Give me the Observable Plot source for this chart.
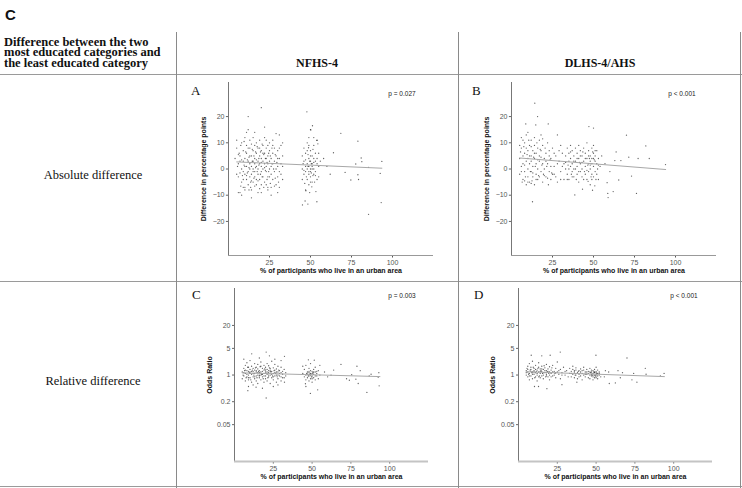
<!DOCTYPE html>
<html>
<head>
<meta charset="utf-8">
<script src="https://cdn.jsdelivr.net/npm/d3@7"></script>
<script src="https://cdn.jsdelivr.net/npm/@observablehq/plot@0.6"></script>
<style>
  html, body { margin: 0; padding: 0; background: #fff; }
  #fig { position: relative; width: 742px; height: 488px; overflow: hidden; background: #fff; }
  .abs { position: absolute; }
  .hl { position: absolute; height: 0; border-top: 1.5px solid #9a9a9a; }
  .vl { position: absolute; width: 0; border-left: 1px solid #8a8a8a; }
  .serif { font-family: "Liberation Serif", "Times New Roman", serif; color: #111; }
  .sans { font-family: "Liberation Sans", Arial, sans-serif; color: #111; }
  .plotbox { position: absolute; }
</style>
</head>
<body>
<div id="fig"></div>
<script>
// ---------- data ----------
const columnTitles = ["NFHS-4", "DLHS-4/AHS"];
const rowTitles = ["Absolute difference", "Relative difference"];
const headerLines = ["Difference between the two", "most educated categories and", "the least educated category"];
const panelLetters = ["A", "B", "C", "D"];
const pValues = ["p = 0.027", "p < 0.001", "p = 0.003", "p < 0.001"];
const xTitle = "% of participants who live in an urban area";
const yTitleAbs = "Difference in percentage points";
const yTitleRel = "Odds Ratio";
const xTicks = [25, 50, 75, 100];
const yTicksAbs = [-20, -10, 0, 10, 20];
const yTicksRel = [0.05, 0.2, 1, 5, 20];

// A: NFHS-4, absolute difference [urban %, difference in pp]
const nfhsAbsPoints = [
[5,8],[6,2],[6,-3],[7,5],[7,-9],[8,10],[8,0],[8,-5],[9,3],[9,-1],[9,7],[10,12],[10,-2],[10,4],[10,-7],[11,1],[11,9],[11,-4],[11,6],[12,-1],[12,3],[12,15],[12,-6],[13,2],[13,8],[13,-3],[13,11],[13,0],[14,5],[14,-8],[14,1],[14,-2],[15,7],[15,3],[15,-5],[15,12],[15,0],[16,4],[16,-1],[16,9],[16,-3],[16,2],[17,6],[17,-6],[17,1],[17,10],[18,3],[18,-2],[18,8],[18,-9],[18,0],[19,5],[19,2],[19,-4],[19,11],[20,1],[20,7],[20,-1],[20,4],[20,-6],[21,3],[21,9],[21,-3],[21,0],[22,6],[22,2],[22,-5],[22,12],[23,4],[23,-1],[23,8],[23,1],[24,-3],[24,5],[24,2],[24,-7],[25,7],[25,0],[25,3],[25,10],[26,-2],[26,4],[26,1],[27,6],[27,-4],[27,2],[28,8],[28,-1],[28,3],[29,5],[29,-6],[30,1],[30,7],[30,-3],[31,4],[31,-1],[32,2],[32,9],[33,-4],[33,5],
[6,-9],[8,-10],[10,-8],[14,-11],[20,-9],[26,-10],[30,-9],[12,20],[20,23.4],[11,14],[22,16],[29,13.5],[31,13],[5,-2],[7,3],[9,-4],[16,14],[24,-8],[27,11],[31,-7],[33,10],[4,4],[5,11],
[6.5,6],[8.5,-2.5],[9.5,1.5],[10.5,6.5],[11.5,-1.5],[12.5,4.5],[13.5,-5],[14.5,3],[15.5,-3.5],[16.5,6.5],[17.5,-1],[18.5,4],[19.5,-2],[20.5,9.5],[21.5,5.5],[22.5,-0.5],[23.5,-4],[24.5,6],[25.5,-5.5],[26.5,8],[27.5,0],[28.5,-3.5],[29.5,2.5],[30.5,-5],[7.5,-6.5],[12.5,-8],[17,-4],[19,8],[23,11],[14,9.5],
[5.5,1],[6,5.5],[7,-1.5],[7.5,9],[8,3.5],[9,-7],[9.5,10.5],[10,1],[11,-2.5],[11.5,3.5],[12,8],[12.5,0.5],[13,5],[13.5,-7],[14,-4.5],[14.5,7.5],[15,-1],[15.5,5],[16,-6.5],[16.5,0.5],[17,3.5],[17.5,8.5],[18,-4.5],[18.5,1.5],[19,-7.5],[19.5,6.5],[20,2.5],[20.5,-3],[21,6],[21.5,-7],[22,0.5],[22.5,4],[23,-6],[23.5,2.5],[24,9],[24.5,-1],[25,-3],[25.5,5],[26,-7],[26.5,2],[27,9],[28,-6.5],[28.5,5.5],[29,0],[30,4],[31,8],[32,-2],[33,1],
[45,0],[45,-4],[45,5],[46,3],[46,-2],[46,8],[47,1],[47,-8],[47,6],[47,-1],[48,2],[48,10],[48,-4],[48,0],[49,4],[49,-2],[49,12],[49,1],[49,-6],[50,3],[50,-1],[50,7],[50,15],[50,0],[50,-3],[51,2],[51,5],[51,-5],[51,1],[52,-2],[52,4],[52,9],[52,0],[53,6],[53,-1],[53,3],[54,-4],[54,11],[54,2],[55,1],[55,-3],[55,6],[56,3],
[45.5,2],[46,-0.5],[47,3.5],[47.5,-3],[48,7],[48.5,1],[49,-1],[49.5,3],[50,5],[50.5,-1.5],[51,0],[51.5,7.5],[52,2.5],[53,-2.5],[54,4],[50,-5],[49,9],[52,12],
[47.8,21.8],[51.2,16.5],[50.2,14.9],[48.8,8.1],[46.7,-12.2],[48.4,-13.4],[45.1,-13.7],[53.9,-12.5],[47.2,-8.3],[53.3,-8.6],[50.8,-6.8],[53.9,10.9],[54.5,9.6],[46.5,-5.5],[49.5,-9],[51.5,-2.5],[48.5,5.5],[50.5,2],[52.5,-5],
[64,6.2],[68.5,13.6],[78.9,10.6],[80.9,4.2],[81.3,2.8],[93.5,2.9],[77.6,1.9],[71.1,-1.3],[78.9,-2.2],[74.6,-4.2],[79.3,-4.0],[85.4,0.6],[92.5,-1.7],[93.1,-12.8],[85.4,-17.3],[60,1],[62,-2],[58,4]
];
const nfhsAbsFit = [[5, 2.7], [93.5, 0.3]];

// B: DLHS-4/AHS, absolute difference
const dlhsAbsPoints = [
[5,4],[5,-2],[6,8],[6,1],[6,12],[7,-4],[7,5],[7,2],[8,10],[8,-1],[8,6],[9,3],[9,-6],[9,13],[10,7],[10,0],[10,-3],[10,4],[11,9],[11,2],[11,-5],[12,5],[12,-1],[12,11],[12,3],[13,7],[13,-3],[13,1],[14,4],[14,9],[14,-6],[14,12],[15,2],[15,-2],[15,6],[16,8],[16,0],[16,-4],[17,5],[17,3],[17,11],[18,-1],[18,7],[19,2],[19,-5],[19,9],[20,4],[20,0],[21,6],[21,-3],[22,10],[22,2],[23,-1],[23,7],[24,4],[24,-4],[25,8],[26,1],[26,-2],[27,5],[28,13],[28,-5],[29,3],[30,9],[30,-1],[31,6],[32,-4],[32,2],
[5.5,6.5],[6.5,-5],[7.5,8.5],[8.5,-3],[9.5,5.5],[10.5,11],[11.5,-1],[12.5,-4.5],[13.5,4.5],[14.5,1],[15.5,10],[16.5,-2.5],[17.5,7.5],[18.5,1.5],[19.5,-2],[20.5,8],[21.5,1],[22.5,-6],[23.5,3.5],[24.5,-1.5],[12,-5.5],[8,-4.5],[10,14],[18,13],
[5,9],[6,-1],[7,11],[8,1.5],[9,8],[10,-5],[11,5],[12,8.5],[13,-1.5],[14,6],[15,-4],[16,3.5],[17,-3],[18,4.5],[19,11.5],[20,-2.5],[21,3],[22,-3.5],[23,5],[24,1],[25,-2],[26,6],[27,-3],[28,2],[29,7],[30,-4],[31,1],
[33,5],[33,0],[34,8],[34,-2],[35,3],[35,6],[35,-4],[36,1],[36,9],[36,4],[37,-1],[37,7],[37,2],[38,5],[38,-3],[38,0],[39,8],[39,3],[40,-2],[40,6],[40,1],[41,4],[41,-5],[41,9],[42,2],[42,-1],[42,7],[43,5],[43,0],[43,-3],[44,3],[44,8],[45,-2],[45,6],[45,1],[46,4],[46,-4],[46,10],[47,2],[47,7],[47,-1],[48,5],[48,0],[48,3],[48,-6],[49,8],[49,2],[49,-2],[49,4],[50,6],[50,1],[50,-3],[50,9],[51,3],[51,-1],[51,5],[52,2],[52,7],[53,-4],[53,4],[54,1],[55,5],
[34.5,1.5],[36.5,-2],[39.5,-4],[41.5,2.5],[43.5,6.5],[44.5,-1],[46.5,1.5],[47.5,4],[48.5,-3],[49.5,6.5],[50.5,3.5],[51.5,-4],[52.5,0],
[33,2.5],[34,-4],[35,0],[36,6.5],[37,-3],[38,3],[39,0],[40,4],[41,-1],[42,5],[43,2.5],[44,-4],[45,4],[46,-0.5],[47,5],[48,1.5],[49,-4],[50,4],[51,7],[52,-2],[53,1.5],
[14.2,25.1],[15.9,20.0],[8.7,17.2],[14.8,16.8],[22.4,17.2],[47.2,16.2],[50,15.6],[70.1,12.9],[81.9,8.8],[63.8,6.5],[71.5,4.5],[77.2,4.0],[66.7,3.2],[63,3.2],[93.9,1.7],[65.4,-4.2],[73.2,-2.7],[58.3,-5.2],[58.7,-9.3],[58.9,-10.9],[62,-8.6],[76.2,-9.3],[12.8,-12.5],[38.6,-9.9],[50.8,-6.4],[49.4,-8.1],[43.3,-7.7],[46.7,-4.7],[57,2],[60,-1],[84,4]
];
const dlhsAbsFit = [[5, 4.2], [94, -0.2]];

// C: NFHS-4, relative difference [urban %, odds ratio]
const nfhsRelPoints = [
[5,1.2],[5,0.8],[6,1.5],[6,0.95],[7,1.1],[7,1.8],[7,0.7],[8,1.3],[8,0.9],[8,2.1],[9,1.0],[9,1.6],[9,0.75],[10,1.2],[10,0.85],[10,2.4],[10,1.4],[11,1.05],[11,0.65],[11,1.7],[12,1.25],[12,0.9],[12,1.5],[12,0.55],[13,1.1],[13,2.0],[13,0.8],[13,1.35],[14,0.95],[14,1.6],[14,1.2],[14,0.7],[15,1.45],[15,1.0],[15,0.6],[15,1.9],[16,1.15],[16,0.85],[16,1.3],[17,1.7],[17,1.0],[17,0.75],[17,2.2],[18,1.25],[18,0.9],[18,1.5],[19,1.1],[19,0.65],[19,1.8],[19,1.35],[20,0.95],[20,1.6],[20,1.2],[20,0.8],[21,1.4],[21,2.0],[21,1.05],[21,0.7],[22,1.3],[22,0.9],[22,1.75],[22,1.15],[23,0.6],[23,1.5],[23,1.0],[24,1.25],[24,2.3],[24,0.85],[25,1.1],[25,1.55],[25,0.75],[26,1.35],[26,0.95],[26,1.9],[27,1.2],[27,0.65],[27,1.45],[28,1.0],[28,1.7],[28,0.8],[29,1.3],[29,1.1],[30,0.9],[30,1.6],[30,0.7],[31,1.25],[31,1.05],[32,1.4],[32,0.85],[33,1.15],[33,0.95],
[6.5,1.3],[7.5,0.85],[8.5,1.6],[9.5,1.15],[10.5,0.75],[11.5,1.35],[12.5,1.0],[13.5,1.55],[14.5,0.85],[15.5,1.25],[16.5,1.65],[17.5,1.05],[18.5,0.8],[19.5,1.45],[20.5,1.1],[21.5,0.85],[22.5,1.55],[23.5,1.2],[24.5,0.95],[25.5,1.3],[26.5,1.1],[27.5,0.9],[28.5,1.35],[9,1.25],[16,1.0],[23,1.35],
[5.5,1.0],[6,1.15],[7,1.35],[8,1.05],[9,0.85],[10,1.1],[11,1.25],[12,1.1],[13,0.9],[14,1.3],[15,1.15],[16,0.95],[17,1.2],[18,1.05],[19,0.95],[20,1.35],[21,1.2],[22,1.0],[23,1.25],[24,1.05],[25,0.9],[26,1.15],[27,1.0],[28,1.2],[29,0.95],[30,1.15],[31,0.85],
[11.1,3.6],[20.4,4.0],[22.5,3.2],[32.2,3.1],[8.6,0.39],[13.9,0.48],[20.4,0.25],[32.2,0.65],[6,2.6],[16,2.8],[26,2.6],[30,2.4],[9,0.5],[18,0.45],[25,0.5],[28,0.55],
[44,1.1],[45,0.9],[45,1.4],[46,1.0],[46,0.75],[46,1.8],[47,1.2],[47,0.85],[47,1.05],[48,1.5],[48,0.95],[48,0.7],[48,1.15],[49,1.0],[49,1.3],[49,0.8],[49,2.0],[50,1.1],[50,0.9],[50,1.25],[50,0.65],[50,1.0],[51,1.4],[51,0.85],[51,1.05],[52,1.2],[52,0.75],[52,1.6],[53,0.95],[53,1.1],[54,1.3],[54,0.8],[55,1.0],
[46.5,1.1],[47.5,0.95],[48,1.25],[49,1.1],[50,0.8],[51,1.2],[52,0.95],[53,1.25],
[47.6,2.5],[51.4,2.45],[48.9,0.33],[53.6,0.41],[45.7,0.59],[44,1.7],[55,1.8],[46,0.5],[49.5,0.9],[50.5,1.15],[48.5,1.05],
[68.6,1.9],[78.9,1.7],[63.9,1.35],[62.2,0.99],[72.2,0.8],[78.2,0.78],[79.7,0.6],[74,0.73],[85.3,0.35],[92.6,0.88],[93.2,0.52],[86.8,0.95],[75.5,1.02],[58,1.2],[60,0.9],[81,1.3],[88,1.05],[93,1.15]
];
const nfhsRelFit = [[5, 1.14], [93.7, 0.91]];

// D: DLHS-4/AHS, relative difference
const dlhsRelPoints = [
[5,1.3],[5,1.0],[6,1.7],[6,0.9],[6,1.2],[7,2.0],[7,1.1],[7,0.75],[8,1.4],[8,0.95],[8,1.6],[9,1.2],[9,0.8],[9,2.3],[10,1.05],[10,1.5],[10,1.3],[11,0.9],[11,1.8],[11,1.15],[12,1.35],[12,0.7],[12,1.0],[13,1.6],[13,1.2],[13,2.1],[14,0.85],[14,1.45],[14,1.1],[15,1.25],[15,0.95],[15,1.7],[16,1.4],[16,1.0],[16,0.8],[17,1.55],[17,1.15],[18,1.9],[18,1.05],[18,1.3],[19,0.9],[19,1.45],[20,1.2],[20,1.65],[20,0.75],[21,1.1],[21,1.35],[22,0.95],[22,1.8],[23,1.25],[23,1.0],[24,1.5],[24,0.85],[25,1.2],[25,2.2],[26,1.05],[27,1.4],[27,0.8],[28,1.15],[29,1.6],[30,1.0],[31,1.3],[32,0.9],
[5.5,1.5],[6.5,1.05],[7.5,1.35],[8.5,1.15],[9.5,1.6],[10.5,0.85],[11.5,1.25],[12.5,1.5],[13.5,0.95],[14.5,1.3],[15.5,1.1],[16.5,1.75],[17.5,0.9],[18.5,1.2],[19.5,1.1],[21.5,1.55],[23.5,1.1],
[5,1.15],[6,1.4],[7,0.95],[8,1.25],[9,1.05],[10,1.2],[11,1.4],[12,1.1],[13,0.9],[14,1.25],[15,1.45],[16,1.15],[17,1.3],[18,0.95],[19,1.25],[20,1.0],[21,0.9],[22,1.2],[24,1.15],[26,1.3],[28,1.0],[30,1.25],
[33,1.5],[33,1.1],[34,1.25],[34,0.9],[35,1.4],[35,1.05],[35,1.7],[36,1.2],[36,0.85],[37,1.35],[37,1.0],[37,1.55],[38,1.15],[38,0.8],[39,1.3],[39,1.05],[40,1.45],[40,0.95],[40,1.2],[41,1.1],[41,0.75],[42,1.35],[42,1.0],[42,1.6],[43,1.2],[43,0.9],[44,1.05],[44,1.4],[45,0.85],[45,1.25],[45,1.1],[46,1.0],[46,1.5],[46,0.8],[47,1.2],[47,1.05],[47,0.95],[48,1.3],[48,0.9],[48,1.1],[48,0.75],[49,1.0],[49,1.4],[49,0.85],[49,1.15],[50,1.05],[50,0.95],[50,1.25],[50,1.6],[51,1.1],[51,0.8],[51,1.35],[52,1.0],[52,1.2],[53,0.9],
[47.5,1.0],[48.5,1.2],[49.5,0.95],[50.5,1.1],[46.5,1.15],[36.5,1.0],[38.5,1.25],
[34,1.1],[36,1.3],[39,0.9],[41,1.3],[43,1.05],[44,1.2],[46,1.2],[47,1.35],[48,1.0],[49,1.2],[50,1.15],[51,0.95],[52,1.1],[50,0.85],
[8.2,3.3],[15,3.2],[20.4,3.3],[26.9,4.0],[49.9,3.3],[69.9,2.8],[10.3,0.5],[12.9,0.5],[18.3,0.44],[28,0.56],[37.6,0.65],[58.5,0.6],[62.4,0.62],[76.3,0.65],[73.1,0.75],[81.7,1.5],[82.2,1.05],[74.2,1.1],[64.1,1.3],[58.1,1.2],[93.8,1.1],[91.4,0.95],[65.6,0.85],[55.3,0.9],[56,1.3],[67,1.15]
];
const dlhsRelFit = [[5, 1.22], [94, 0.91]];

// ---------- layout ----------
const fig = document.getElementById("fig");
function el(tag, cls, css, text) {
  const e = document.createElement(tag);
  if (cls) e.className = cls;
  Object.assign(e.style, css);
  if (text != null) e.textContent = text;
  fig.appendChild(e);
  return e;
}
// table rules
el("div", "hl", {left: "0px", top: "74px", width: "742px"});
el("div", "hl", {left: "0px", top: "281px", width: "742px"});
el("div", "hl", {left: "0px", top: "486px", width: "742px"});
el("div", "vl", {left: "176px", top: "32px", height: "456px"});
el("div", "vl", {left: "458px", top: "32px", height: "456px"});
el("div", "vl", {left: "740px", top: "32px", height: "456px"});

el("div", "abs sans", {left: "5px", top: "6px", fontSize: "15px", fontWeight: "bold", lineHeight: "18px"}, "C");
el("div", "abs serif", {left: "4px", top: "37px", fontSize: "12.5px", fontWeight: "bold", lineHeight: "10.4px", whiteSpace: "pre"}, headerLines.join("\n"));
[317, 600].forEach((cx, i) => {
  el("div", "abs serif", {left: (cx - 60) + "px", width: "120px", textAlign: "center", top: "57px", fontSize: "12px", fontWeight: "bold", lineHeight: "12px"}, columnTitles[i]);
});
[176, 382].forEach((cy, i) => {
  el("div", "abs serif", {left: "13px", width: "160px", textAlign: "center", top: (cy - 8) + "px", fontSize: "12.5px", lineHeight: "14px"}, rowTitles[i]);
});

const letterPos = [[191, 84], [472, 84], [192, 288], [474, 288]];
letterPos.forEach(([x, y], i) => el("div", "abs serif", {left: x + "px", top: y + "px", fontSize: "13px", lineHeight: "13px"}, panelLetters[i]));
const pPos = [[402, 94], [682, 94], [402, 296], [684, 296]];
pPos.forEach(([x, y], i) => el("div", "abs sans", {left: (x - 30) + "px", width: "60px", textAlign: "center", top: (y - 4) + "px", fontSize: "6.5px", lineHeight: "8px", color: "#222"}, pValues[i]));

// ---------- panels ----------
function panel({left, top, width, height, mL, mR, mT, mB, points, fit, log, yTitle, yTitleDx}) {
  const yDomain = log ? [0.0054, 186] : [-33, 33];
  const yTicks = log ? yTicksRel : yTicksAbs;
  const fmt = log ? (d => String(d)) : (d => d < 0 ? "\u2212" + Math.abs(d) : String(d));
  const chart = Plot.plot({
    width, height,
    marginLeft: mL, marginRight: mR, marginTop: mT, marginBottom: mB,
    style: {fontFamily: "Liberation Sans, Arial, sans-serif", fontSize: "7px", color: "#555", background: "transparent", overflow: "visible"},
    x: {domain: [0, 125], ticks: xTicks, tickSize: 2.5, tickPadding: 2, label: null},
    y: log ? {type: "log", domain: yDomain, axis: null} : {domain: yDomain, axis: null},
    marks: [
      Plot.link(yTicks, {x1: -1.6, x2: 0, y1: d => d, y2: d => d, stroke: "#666", strokeWidth: 1}),
      Plot.text(yTicks, {x: 0, y: d => d, text: fmt, textAnchor: "end", dx: -4, fill: "#555", fontSize: 7}),
      Plot.ruleX([0], {stroke: "#777", strokeWidth: 1}),
      Plot.ruleY([yDomain[0]], {stroke: log ? "#c4c4c4" : "#999", strokeWidth: log ? 1.8 : 1.2}),
      Plot.dot(points, {x: d => d[0], y: d => d[1], r: 0.65, fill: "#000", fillOpacity: 0.62, stroke: null}),
      Plot.line(fit, {x: d => d[0], y: d => d[1], stroke: "#a8a8a8", strokeWidth: 1}),
      Plot.text([xTitle], {frameAnchor: "bottom", dy: 17, fontWeight: "bold", fontSize: 7, fill: "#111"}),
      Plot.text([yTitle], {frameAnchor: "left", dx: yTitleDx, rotate: -90, textAnchor: "middle", fontWeight: "bold", fontSize: 7, fill: "#111"})
    ]
  });
  chart.classList.add("plotbox");
  chart.style.left = left + "px";
  chart.style.top = top + "px";
  fig.appendChild(chart);
}

panel({left: 180, top: 78, width: 276, height: 204, mL: 48, mR: 23, mT: 4, mB: 27, points: nfhsAbsPoints, fit: nfhsAbsFit, log: false, yTitle: yTitleAbs, yTitleDx: -25});
panel({left: 462, top: 78, width: 276, height: 204, mL: 49, mR: 22, mT: 4, mB: 27, points: dlhsAbsPoints, fit: dlhsAbsFit, log: false, yTitle: yTitleAbs, yTitleDx: -25});
panel({left: 180, top: 284, width: 276, height: 204, mL: 54, mR: 28, mT: 4, mB: 27, points: nfhsRelPoints, fit: nfhsRelFit, log: true, yTitle: yTitleRel, yTitleDx: -25});
panel({left: 462, top: 284, width: 276, height: 204, mL: 56, mR: 26, mT: 4, mB: 27, points: dlhsRelPoints, fit: dlhsRelFit, log: true, yTitle: yTitleRel, yTitleDx: -26});
</script>
</body>
</html>
